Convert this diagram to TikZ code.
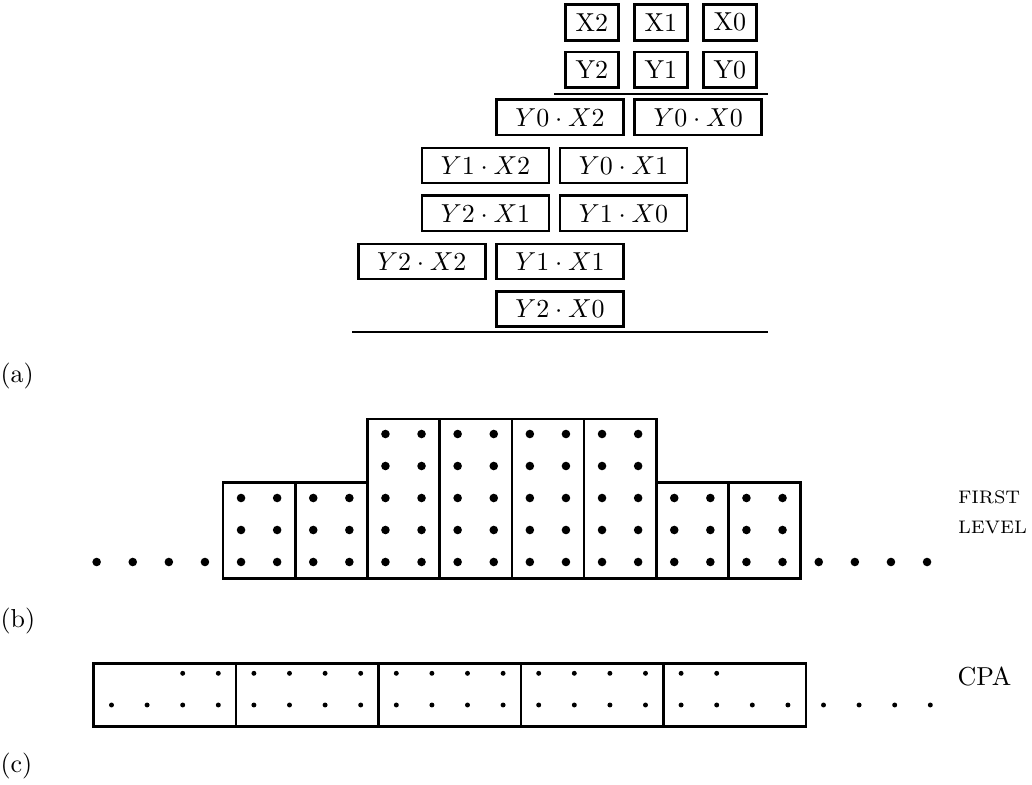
\documentclass[tikz,border=0pt]{standalone}
\begin{document}
\begin{tikzpicture}[x=0.385pt,y=-0.385pt,
  smallbox/.style={draw,line width=1pt,minimum width=20.4pt,minimum height=13.8pt,inner sep=0pt},
  prodbox/.style={draw,line width=1pt,minimum width=48.9pt,minimum height=13.5pt,inner sep=0pt},
  rulestyle/.style={line width=0.9pt},
  blockstyle/.style={line width=1pt},
  cpastyle/.style={line width=1pt},
  lbl/.style={anchor=base west,inner sep=0pt}]
\useasboundingbox (0,0) rectangle (1032,785);
% (a) multiplier
\node[smallbox] (x2) at (591.8,22.3) {X2};
\node[smallbox] (x1) at (660.8,22.3) {X1};
\node[smallbox] (x0) at (729.8,22.3) {X0};
\node[smallbox] (y2) at (591.8,69.8) {Y2};
\node[smallbox] (y1) at (660.8,69.8) {Y1};
\node[smallbox] (y0) at (729.8,69.8) {Y0};
\coordinate (r1a) at (554,93.7);
\coordinate (r1b) at (767.7,93.7);
\draw[rulestyle] (r1a) -- (r1b);
\node[prodbox] (p02) at (560,117.3) {$Y0\cdot X2$};
\node[prodbox] (p00) at (698.2,117.3) {$Y0\cdot X0$};
\node[prodbox] (p12) at (485.5,165.5) {$Y1\cdot X2$};
\node[prodbox] (p01) at (623.5,165.5) {$Y0\cdot X1$};
\node[prodbox] (p21) at (485.5,213.3) {$Y2\cdot X1$};
\node[prodbox] (p10) at (623.5,213.3) {$Y1\cdot X0$};
\node[prodbox] (p22) at (421.8,261.5) {$Y2\cdot X2$};
\node[prodbox] (p11) at (560,261.5) {$Y1\cdot X1$};
\node[prodbox] (p20) at (560,308.8) {$Y2\cdot X0$};
\coordinate (r2a) at (352.3,332.3);
\coordinate (r2b) at (767.7,332.3);
\draw[rulestyle] (r2a) -- (r2b);
\node[lbl] (la) at (0,382.5) {(a)};
% (b) first level
\foreach \i/\t/\n in {0/482.7/2,1/482.7/2,2/419/4,3/419/4,4/419/4,5/419/4,6/482.7/2,7/482.7/2}{
  \draw[blockstyle] ({223+72.2*\i},\t) rectangle ({223+72.2*(\i+1)},578.3);
  \foreach \c in {0,1}{
    \foreach \r in {0,...,\n}{
      \fill ({223+72.2*\i+18.05+36.1*\c},{562-32*\r}) circle (1.65pt);
    }
  }
}
\foreach \j in {1,...,4}{
  \fill ({223-18.05-36.1*(\j-1)},562) circle (1.65pt);
  \fill ({800.7+18.05+36.1*(\j-1)},562) circle (1.65pt);
}
\node[lbl] (first) at (957.5,503.5) {\scriptsize FIRST};
\node[lbl] (level) at (957.5,533.5) {\scriptsize LEVEL};
\node[lbl] (lb) at (0,627.5) {(b)};
% (c) CPA
\foreach \i in {0,...,4}{
  \draw[cpastyle] ({93.7+142.46*\i},663.3) rectangle ({93.7+142.46*(\i+1)},726.7);
}
\foreach \k in {0,...,23}{
  \fill ({93.7+17.8+35.6*\k},705) circle (0.95pt);
}
\foreach \k in {2,...,17}{
  \fill ({93.7+17.8+35.6*\k},673.3) circle (0.95pt);
}
\node[lbl] (cpa) at (957,685) {CPA};
\node[lbl] (lc) at (0,772.5) {(c)};
\end{tikzpicture}
\end{document}
